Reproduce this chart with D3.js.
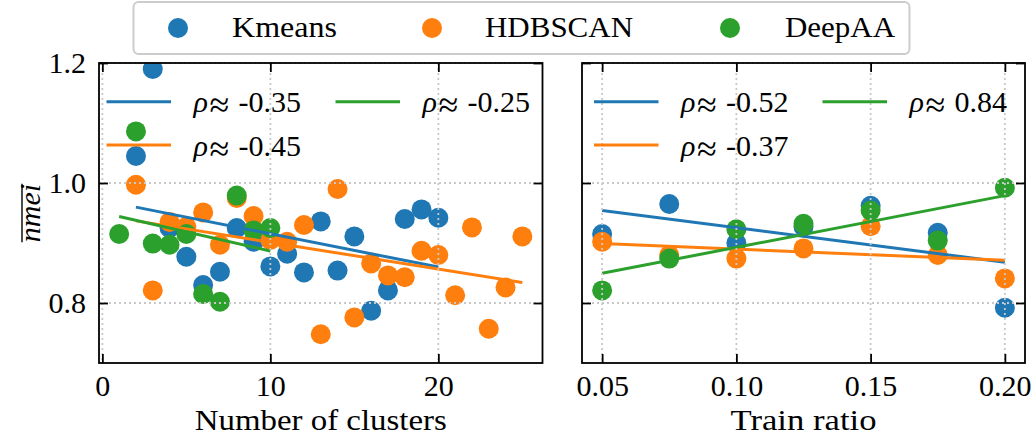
<!DOCTYPE html>
<html>
<head>
<meta charset="utf-8">
<script src="https://cdn.jsdelivr.net/npm/d3@7"></script>
<style>
  body { margin: 0; background: #fff; }
  svg text { font-family: "Liberation Serif", "Times New Roman", "DejaVu Serif", serif; fill: #000; }
</style>
</head>
<body>
<svg id="chart" width="1034" height="439"></svg>
<script>
// ---- data ----
const methods = ["Kmeans", "HDBSCAN", "DeepAA"];
const colors = ["#1f77b4", "#ff7f0e", "#2ca02c"];

// nmei vs number of clusters
const kmeansClusters = [2, 3, 4, 5, 6, 7, 8, 9, 10, 11, 12, 13, 14, 15, 16, 17, 18, 19, 20];
const kmeansClustersNmei = [1.045, 1.19, 0.925, 0.877, 0.830, 0.852, 0.925, 0.902, 0.861, 0.882,
                            0.851, 0.936, 0.854, 0.911, 0.787, 0.821, 0.940, 0.956, 0.942];
const hdbscanClusters = [2, 3, 4, 5, 6, 7, 8, 9, 10, 11, 12, 13, 14, 15, 16, 17, 18, 19, 20, 21, 22, 23, 24, 25];
const hdbscanClustersNmei = [0.997, 0.821, 0.935, 0.927, 0.951, 0.897, 0.975, 0.945, 0.905, 0.902,
                             0.930, 0.748, 0.990, 0.776, 0.866, 0.846, 0.843, 0.887, 0.880, 0.813,
                             0.926, 0.757, 0.826, 0.911];
const deepaaClusters = [1, 2, 3, 4, 5, 6, 7, 8, 9, 10];
const deepaaClustersNmei = [0.915, 1.086, 0.899, 0.897, 0.915, 0.815, 0.802, 0.979, 0.921, 0.925];
const clustersRho = ["-0.35", "-0.45", "-0.25"];

// nmei vs train ratio
const trainRatios = [0.05, 0.075, 0.10, 0.125, 0.15, 0.175, 0.20];
const kmeansRatioNmei = [0.915, 0.965, 0.900, 0.927, 0.962, 0.917, 0.792];
const hdbscanRatioNmei = [0.902, 0.880, 0.874, 0.891, 0.928, 0.880, 0.841];
const deepaaRatioNmei = [0.821, 0.874, 0.923, 0.932, 0.954, 0.904, 0.992];
const ratioRho = ["-0.52", "-0.37", "0.84"];

// axis ticks
const yTicks = [0.8, 1.0, 1.2];
const clusterTicks = [0, 10, 20];
const ratioTicks = [0.05, 0.10, 0.15, 0.20];

// ---- layout ----
const svg = d3.select("#chart");
const plotTop = 63, plotBottom = 363;
const y = d3.scaleLinear().domain([0.7, 1.2]).range([plotBottom, plotTop]);

const panels = [
  {
    id: "clusters",
    x: d3.scaleLinear().domain([-0.2, 26.2]).range([99, 542.5]),
    ticks: clusterTicks, fmt: d3.format("d"),
    xlabel: "Number of clusters", xlabelWidth: 252,
    series: [
      { xs: kmeansClusters, ys: kmeansClustersNmei },
      { xs: hdbscanClusters, ys: hdbscanClustersNmei },
      { xs: deepaaClusters, ys: deepaaClustersNmei }
    ],
    rho: clustersRho,
    legendCols: [106.5, 335.5],
    yLabels: true
  },
  {
    id: "ratio",
    x: d3.scaleLinear().domain([0.0425, 0.2075]).range([582, 1025]),
    ticks: ratioTicks, fmt: d3.format(".2f"),
    xlabel: "Train ratio", xlabelWidth: 146,
    series: [
      { xs: trainRatios, ys: kmeansRatioNmei },
      { xs: trainRatios, ys: hdbscanRatioNmei },
      { xs: trainRatios, ys: deepaaRatioNmei }
    ],
    rho: ratioRho,
    legendCols: [594, 822.5],
    yLabels: false
  }
];

// least-squares trend line over a series' own x-range
function fit(xs, ys) {
  const mx = d3.mean(xs), my = d3.mean(ys);
  const sxy = d3.sum(xs, (v, i) => (v - mx) * (ys[i] - my));
  const sxx = d3.sum(xs, v => (v - mx) * (v - mx));
  const b = sxy / sxx, a = my - b * mx;
  const x0 = d3.min(xs), x1 = d3.max(xs);
  return [[x0, a + b * x0], [x1, a + b * x1]];
}

function stretch(sel, w) {
  sel.attr("textLength", w).attr("lengthAdjust", "spacingAndGlyphs");
}

const FS = 30;

panels.forEach(p => {
  const [x0, x1] = p.x.range();
  const g = svg.append("g");

  g.append("clipPath").attr("id", "clip-" + p.id)
    .append("rect").attr("x", x0).attr("y", plotTop).attr("width", x1 - x0).attr("height", plotBottom - plotTop);

  const plot = g.append("g").attr("clip-path", `url(#clip-${p.id})`);

  // scatter points
  p.series.forEach((s, k) => {
    plot.append("g").selectAll("circle")
      .data(s.xs.map((v, i) => [v, s.ys[i]]))
      .join("circle")
      .attr("cx", d => p.x(d[0]))
      .attr("cy", d => y(d[1]))
      .attr("r", 10)
      .attr("fill", colors[k]);
  });

  // trend lines
  const line = d3.line().x(d => p.x(d[0])).y(d => y(d[1]));
  p.series.forEach((s, k) => {
    plot.append("path")
      .attr("d", line(fit(s.xs, s.ys)))
      .attr("stroke", colors[k])
      .attr("stroke-width", 3)
      .attr("fill", "none");
  });

  // dotted grid
  const grid = g.append("g").attr("stroke", "#c8c8c8").attr("stroke-width", 1.8)
    .attr("stroke-dasharray", "2,3");
  p.ticks.forEach(t => {
    grid.append("line").attr("x1", p.x(t)).attr("x2", p.x(t)).attr("y1", plotTop).attr("y2", plotBottom);
  });
  yTicks.forEach(t => {
    grid.append("line").attr("x1", x0).attr("x2", x1).attr("y1", y(t)).attr("y2", y(t));
  });

  // inward ticks on all four sides
  const axB = d3.axisBottom(p.x).tickValues(p.ticks).tickSize(-9).tickFormat(p.fmt).tickPadding(12);
  const axT = d3.axisTop(p.x).tickValues(p.ticks).tickSize(-9).tickFormat("");
  const axL = d3.axisLeft(y).tickValues(yTicks).tickSize(-9).tickFormat(d3.format(".1f")).tickPadding(13);
  const axR = d3.axisRight(y).tickValues(yTicks).tickSize(-9).tickFormat("");

  const styleAxis = (a) => {
    a.attr("font-family", null);
    a.select(".domain").remove();
    a.selectAll(".tick line").attr("stroke", "#000").attr("stroke-width", 1.8);
    a.selectAll("text").attr("font-size", FS).attr("fill", "#000");
  };

  const gb = g.append("g").attr("transform", `translate(0,${plotBottom})`).call(axB);
  styleAxis(gb);
  gb.selectAll("text").attr("dy", "0.71em");
  const gt = g.append("g").attr("transform", `translate(0,${plotTop})`).call(axT);
  styleAxis(gt);
  const gl = g.append("g").attr("transform", `translate(${x0},0)`).call(axL);
  styleAxis(gl);
  if (!p.yLabels) gl.selectAll("text").remove();
  const gr = g.append("g").attr("transform", `translate(${x1},0)`).call(axR);
  styleAxis(gr);

  // frame
  g.append("rect").attr("x", x0).attr("y", plotTop).attr("width", x1 - x0).attr("height", plotBottom - plotTop)
    .attr("fill", "none").attr("stroke", "#000").attr("stroke-width", 1.8);

  // x label
  g.append("text")
    .attr("x", (x0 + x1) / 2).attr("y", 430)
    .attr("text-anchor", "middle").attr("font-size", FS)
    .text(p.xlabel)
    .call(stretch, p.xlabelWidth);

  // rho legend (two columns, filled column-wise)
  const slots = [[0, 0], [0, 1], [1, 0]];
  p.rho.forEach((r, k) => {
    const [c, row] = slots[k];
    const lx = p.legendCols[c];
    const ly = 101.7 + row * 43.3;
    g.append("line").attr("x1", lx).attr("x2", lx + 64.5).attr("y1", ly).attr("y2", ly)
      .attr("stroke", colors[k]).attr("stroke-width", 3);
    const t = g.append("text").attr("y", ly + 10.5).attr("font-size", FS);
    t.append("tspan").attr("x", lx + 87).attr("font-style", "italic").text("ρ");
    t.append("tspan").attr("x", lx + 87 + 16).attr("font-size", 36).attr("dy", 5).text("≈");
    t.append("tspan").attr("x", lx + 87 + 45).attr("dy", -5).attr("font-size", FS).text(r);
  });
});

// y label: overline nmei
const yl = svg.append("g").attr("transform", `translate(40,${(plotTop + plotBottom) / 2}) rotate(-90)`);
const ylt = yl.append("text").attr("text-anchor", "middle").attr("font-size", FS)
  .attr("font-style", "italic").text("nmei");
const ylw = ylt.node().getComputedTextLength();
yl.append("line").attr("x1", -ylw / 2).attr("x2", ylw / 2).attr("y1", -18).attr("y2", -18)
  .attr("stroke", "#000").attr("stroke-width", 1.4);

// method legend
const leg = svg.append("g");
leg.append("rect").attr("x", 133.5).attr("y", 2).attr("width", 776).attr("height", 52)
  .attr("rx", 5).attr("fill", "#fff").attr("stroke", "#cccccc").attr("stroke-width", 2);
const legDot = [178, 432, 730];
const legText = [232, 485, 785];
const legW = [105, 148, 110];
methods.forEach((m, k) => {
  leg.append("circle").attr("cx", legDot[k]).attr("cy", 28).attr("r", 10).attr("fill", colors[k]);
  leg.append("text").attr("x", legText[k]).attr("y", 37).attr("font-size", FS).text(m)
    .call(stretch, legW[k]);
});
</script>
</body>
</html>
